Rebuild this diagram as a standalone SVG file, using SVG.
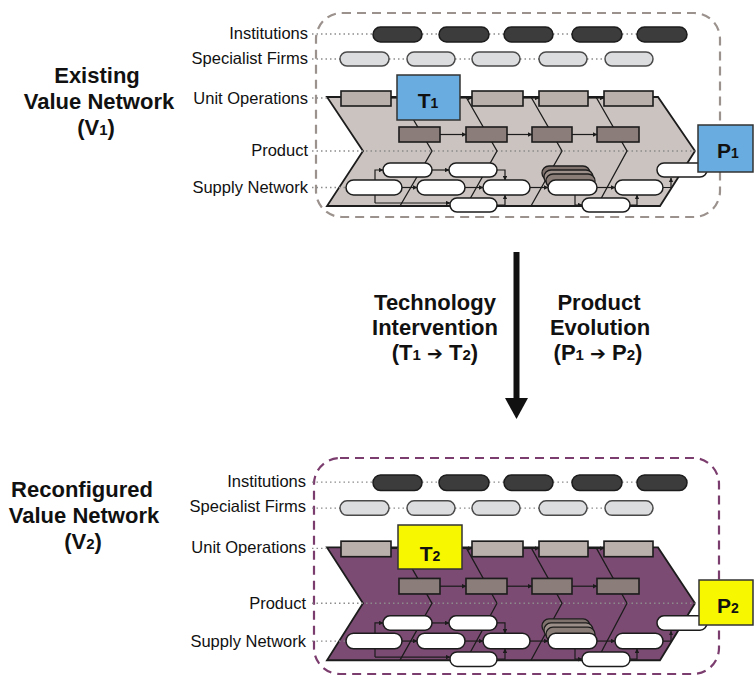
<svg xmlns="http://www.w3.org/2000/svg" xmlns:xlink="http://www.w3.org/1999/xlink" width="754" height="678" viewBox="0 0 754 678">
  <style>
    text { font-family: "Liberation Sans", "DejaVu Sans", Arial, sans-serif; fill: #111; }
    .row { font-size: 16.5px; text-anchor: end; }
    .head { font-size: 22px; font-weight: bold; text-anchor: middle; }
    .tag { font-size: 21px; font-weight: bold; text-anchor: middle; }
    .sub { font-size: 14px; }
    .to { font-family: "DejaVu Sans", sans-serif; font-size: 19px; }
    .dot { stroke: #8c8c8c; stroke-width: 1.3; stroke-dasharray: 1.5 3; fill: none; }
    .inst { fill: #3c3c3c; stroke: #1c1c1c; stroke-width: 1.5; }
    .spec { fill: #dcdddf; stroke: #4a4a4a; stroke-width: 1.5; }
    .uo { fill: #b9afab; stroke: #1c1c1c; stroke-width: 1.6; }
    .pd { fill: #8b7e7a; stroke: #1c1c1c; stroke-width: 1.6; }
    .sn { fill: #ffffff; stroke: #1c1c1c; stroke-width: 1.5; }
    .div { stroke: #1c1c1c; stroke-width: 1.3; fill: none; }
    .ln { stroke: #1c1c1c; stroke-width: 1.2; fill: none; }
    .arr { marker-end: url(#tip); }
    .shape { stroke: #1c1c1c; stroke-width: 1.8; }
    .frame { fill: none; stroke-width: 2.2; stroke-dasharray: 9 6; }
    .tbox { stroke: #333; stroke-width: 1.5; }
  </style>
  <defs>
    <marker id="tip" viewBox="0 0 6 6" refX="5.5" refY="3" markerWidth="4.5" markerHeight="4.5" markerUnits="userSpaceOnUse" orient="auto">
      <path d="M0,0 L6,3 L0,6 Z" fill="#1c1c1c"/>
    </marker>

    <!-- outline of the value-network chevron band -->
    <path id="vn-outline" d="M327,97 L658,97 L695,151 L660,206 L327,206 L363,151 Z"/>

    <!-- layers of a value network, drawn on top of the band -->
    <g id="vn-body">
      <g id="guides">
        <path class="dot" d="M312,34 H373 M422,34 H439 M489,34 H504 M553,34 H572 M622,34 H637"/>
        <path class="dot" d="M312,59 H340 M389,59 H407 M455,59 H472 M520,59 H539 M587,59 H605"/>
        <path class="dot" d="M312,98 H330"/>
        <path class="dot" d="M312,151 H698"/>
        <path class="dot" d="M312,187.5 H346"/>
      </g>
      <g id="stage-dividers">
        <path class="div" d="M400,97 L432,151 L400,206"/>
        <path class="div" d="M466,97 L497,151 L466,206"/>
        <path class="div" d="M531,97 L562,151 L531,206"/>
        <path class="div" d="M596,97 L627,151 L597,206"/>
      </g>
      <g id="institutions">
        <rect class="inst" x="373" y="27" width="49" height="15" rx="7.5"/>
        <rect class="inst" x="439" y="27" width="50" height="15" rx="7.5"/>
        <rect class="inst" x="504" y="27" width="49" height="15" rx="7.5"/>
        <rect class="inst" x="572" y="27" width="50" height="15" rx="7.5"/>
        <rect class="inst" x="637" y="27" width="50" height="15" rx="7.5"/>
      </g>
      <g id="specialist-firms">
        <rect class="spec" x="340" y="52" width="49" height="14" rx="7"/>
        <rect class="spec" x="407" y="52" width="48" height="14" rx="7"/>
        <rect class="spec" x="472" y="52" width="48" height="14" rx="7"/>
        <rect class="spec" x="539" y="52" width="48" height="14" rx="7"/>
        <rect class="spec" x="605" y="52" width="48" height="14" rx="7"/>
      </g>
      <g id="connectors">
        <path class="ln" d="M391,98 H397"/>
        <path class="ln arr" d="M460,98 H472"/>
        <path class="ln arr" d="M523,98 H539"/>
        <path class="ln arr" d="M588,98 H604"/>
        <path class="ln arr" d="M440,134.5 H466"/>
        <path class="ln arr" d="M507,134.5 H532"/>
        <path class="ln arr" d="M572,134.5 H597"/>
        <path class="ln arr" d="M375,203 V170 H383"/>
        <path class="ln arr" d="M375,203 H450"/>
        <path class="ln arr" d="M432,170 H449"/>
        <path class="ln arr" d="M402,187.5 H417"/>
        <path class="ln arr" d="M465,187.5 H483"/>
        <path class="ln arr" d="M530,187.5 H548"/>
        <path class="ln arr" d="M597,187.5 H615"/>
        <path class="ln arr" d="M497,170 H505 V180"/>
        <path class="ln arr" d="M497,205 H505 V195"/>
        <path class="ln arr" d="M575,195 V205 H582"/>
        <path class="ln arr" d="M630,205 H637 V195"/>
        <path class="ln arr" d="M663,187.5 H671 V178"/>
      </g>
      <g id="unit-operations">
        <rect class="uo" x="341" y="91" width="50" height="15"/>
        <rect class="uo" x="472" y="91" width="51" height="15"/>
        <rect class="uo" x="539" y="91" width="49" height="15"/>
        <rect class="uo" x="604" y="91" width="49" height="15"/>
      </g>
      <g id="product-stages">
        <rect class="pd" x="399" y="127" width="41" height="15"/>
        <rect class="pd" x="466" y="127" width="41" height="15"/>
        <rect class="pd" x="532" y="127" width="40" height="15"/>
        <rect class="pd" x="597" y="127" width="42" height="15"/>
      </g>
      <g id="supply-network">
        <rect x="542" y="166" width="48" height="14" rx="7" fill="#7f716c" stroke="#1c1c1c" stroke-width="1.3"/>
        <rect x="544" y="170" width="49" height="14" rx="7" fill="#9c8f89" stroke="#1c1c1c" stroke-width="1.3"/>
        <rect x="546" y="174" width="49" height="14" rx="7" fill="#8a7c77" stroke="#1c1c1c" stroke-width="1.3"/>
        <rect class="sn" x="383" y="163" width="49" height="14" rx="7"/>
        <rect class="sn" x="449" y="163" width="48" height="14" rx="7"/>
        <rect class="sn" x="657" y="163" width="50" height="14" rx="7"/>
        <rect class="sn" x="346" y="180" width="56" height="15" rx="7.5"/>
        <rect class="sn" x="417" y="180" width="48" height="15" rx="7.5"/>
        <rect class="sn" x="483" y="180" width="47" height="15" rx="7.5"/>
        <rect class="sn" x="548" y="180" width="49" height="15" rx="7.5"/>
        <rect class="sn" x="615" y="180" width="48" height="15" rx="7.5"/>
        <rect class="sn" x="450" y="198" width="47" height="14" rx="7"/>
        <rect class="sn" x="582" y="198" width="48" height="14" rx="7"/>
      </g>
    </g>
  </defs>

  <rect width="754" height="678" fill="#ffffff"/>

  <!-- existing value network -->
  <g id="existing-network">
    <rect class="frame" x="316" y="13" width="404" height="204" rx="26" stroke="#9b918d"/>
    <use href="#vn-outline" class="shape" fill="#cbc3bf"/>
    <use href="#vn-body"/>
    <g id="t1">
      <rect class="tbox" x="397" y="75" width="63" height="45" fill="#68ace0"/>
      <text class="tag" x="428" y="108">T<tspan class="sub">1</tspan></text>
    </g>
    <g id="p1">
      <rect class="tbox" x="698" y="125" width="55" height="47" fill="#68ace0"/>
      <text class="tag" x="728" y="158">P<tspan class="sub">1</tspan></text>
    </g>
    <g id="rows-existing">
      <text class="row" x="308" y="39">Institutions</text>
      <text class="row" x="308" y="64">Specialist Firms</text>
      <text class="row" x="308" y="104">Unit Operations</text>
      <text class="row" x="308" y="156">Product</text>
      <text class="row" x="308" y="193">Supply Network</text>
    </g>
    <text class="head" x="97" y="83">Existing</text>
    <text class="head" x="99" y="109">Value Network</text>
    <text class="head" x="96" y="135">(V<tspan font-size="15px">1</tspan>)</text>
  </g>

  <!-- transition between the two networks -->
  <g id="transition">
    <line x1="516.5" y1="252" x2="516.5" y2="401" stroke="#111" stroke-width="6"/>
    <path d="M505,398 L528,398 L516.5,419 Z" fill="#111"/>
    <text class="head" x="435" y="310">Technology</text>
    <text class="head" x="435" y="335">Intervention</text>
    <text class="head" x="435" y="360">(T<tspan font-size="15px">1</tspan> <tspan class="to">➔</tspan> T<tspan font-size="15px">2</tspan>)</text>
    <text class="head" x="599" y="310">Product</text>
    <text class="head" x="600" y="335">Evolution</text>
    <text class="head" x="598" y="360">(P<tspan font-size="15px">1</tspan> <tspan class="to">➔</tspan> P<tspan font-size="15px">2</tspan>)</text>
  </g>

  <!-- reconfigured value network -->
  <g id="reconfigured-network">
    <rect class="frame" x="314" y="458" width="405" height="216" rx="26" stroke="#7b3c6e"/>
    <g transform="matrix(1,0,0,1.035,0,447)">
      <use href="#vn-outline" class="shape" fill="#7c4b73"/>
      <use href="#vn-body"/>
    </g>
    <g id="t2">
      <rect class="tbox" x="398" y="525" width="64" height="44" fill="#f7f700"/>
      <text class="tag" x="430" y="561">T<tspan class="sub">2</tspan></text>
    </g>
    <g id="p2">
      <rect class="tbox" x="699" y="580" width="54" height="45" fill="#f7f700"/>
      <text class="tag" x="728" y="613">P<tspan class="sub">2</tspan></text>
    </g>
    <g id="rows-reconfigured">
      <text class="row" x="306" y="487">Institutions</text>
      <text class="row" x="306" y="512">Specialist Firms</text>
      <text class="row" x="306" y="553">Unit Operations</text>
      <text class="row" x="306" y="609">Product</text>
      <text class="row" x="306" y="647">Supply Network</text>
    </g>
    <text class="head" x="82" y="497">Reconfigured</text>
    <text class="head" x="84" y="523">Value Network</text>
    <text class="head" x="83" y="549">(V<tspan font-size="15px">2</tspan>)</text>
  </g>
</svg>
